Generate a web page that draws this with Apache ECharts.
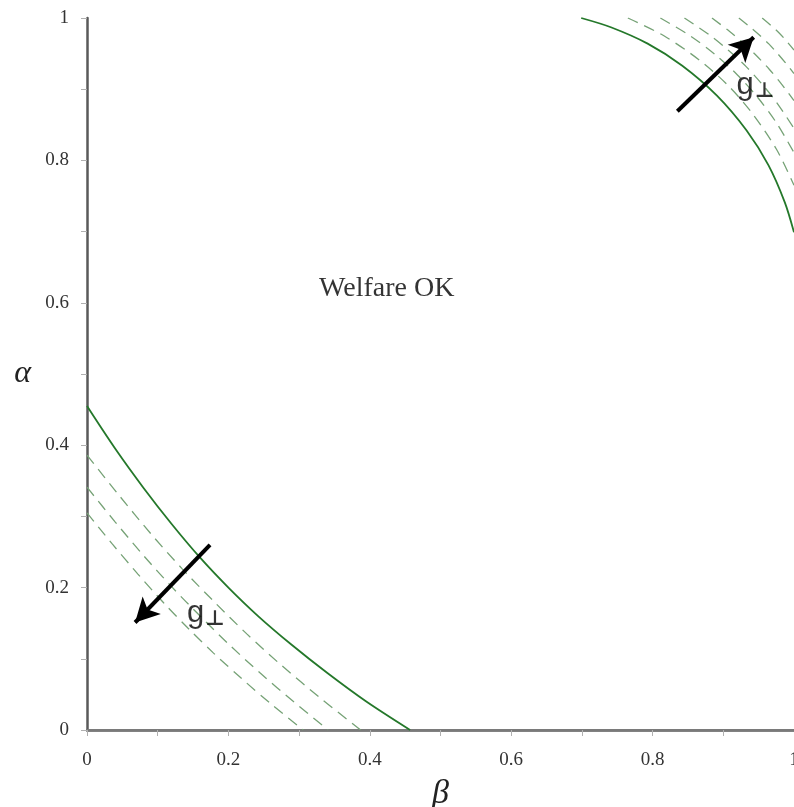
<!DOCTYPE html>
<html>
<head>
<meta charset="utf-8">
<script src="https://cdn.jsdelivr.net/npm/echarts@6/dist/echarts.min.js"></script>
<style>html,body{margin:0;padding:0;background:#fff;}#c{width:794px;height:807px;}</style>
</head>
<body>
<div id="c"></div>
<script>
// Lower-left boundary (solid) and level curves (dashed): [beta, alpha]
const llSolid = [[0,0.455],[0.04,0.395],[0.08,0.340],[0.12,0.289],[0.16,0.242],[0.20,0.200],[0.242,0.16],[0.289,0.12],[0.340,0.08],[0.395,0.04],[0.457,0]];
const llDashed1 = [[0,0.386],[0.045,0.330],[0.09,0.276],[0.135,0.226],[0.18,0.180],[0.226,0.135],[0.276,0.09],[0.330,0.045],[0.387,0]];
const llDashed2 = [[0,0.341],[0.04,0.292],[0.08,0.245],[0.12,0.201],[0.16,0.160],[0.201,0.12],[0.245,0.08],[0.292,0.04],[0.341,0]];
const llDashed3 = [[0,0.305],[0.036,0.261],[0.072,0.219],[0.108,0.179],[0.143,0.143],[0.179,0.108],[0.219,0.072],[0.261,0.036],[0.306,0]];
// Upper-right boundary (solid) and level curves (dashed)
const urSolid = [[0.699,1],[0.741,0.987],[0.793,0.964],[0.842,0.933],[0.891,0.891],[0.933,0.842],[0.964,0.793],[0.987,0.741],[1,0.699]];
const urDashed1 = [[0.765,1],[0.816,0.975],[0.866,0.941],[0.906,0.906],[0.941,0.866],[0.975,0.816],[1,0.765]];
const urDashed2 = [[0.811,1],[0.853,0.975],[0.888,0.949],[0.920,0.920],[0.949,0.888],[0.975,0.853],[1,0.811]];
const urDashed3 = [[0.845,1],[0.882,0.975],[0.908,0.954],[0.932,0.932],[0.954,0.908],[0.975,0.882],[1,0.845]];
const urDashed4 = [[0.884,1],[0.909,0.981],[0.928,0.965],[0.947,0.947],[0.965,0.928],[0.981,0.909],[1,0.884]];
const urDashed5 = [[0.922,1],[0.937,0.988],[0.951,0.976],[0.964,0.964],[0.976,0.951],[0.988,0.937],[1,0.922]];
const urDashed6 = [[0.955,1],[0.968,0.989],[0.979,0.979],[0.989,0.968],[1,0.955]];
// Arrows: [from, to] in [beta, alpha]
const arrowUR = [[0.835,0.869],[0.943,0.973]];
const arrowLL = [[0.174,0.260],[0.068,0.151]];
// Text annotations
const regionLabel = {text:'Welfare OK', pos:[0.424,0.620]};
const gLabels = [[0.945,0.905],[0.168,0.163]];

const solidStyle = {color:'#24782a', width:1.8, type:'solid'};
const dashStyle = {color:'#76a276', width:1.3, type:[11,7]};
function curve(data, style){
  return {type:'line', data:data, showSymbol:false, symbol:'none', smooth:0.3,
    lineStyle:style, silent:true, z:3, clip:true};
}
const series = [
  curve(llSolid, solidStyle), curve(llDashed1, dashStyle), curve(llDashed2, dashStyle), curve(llDashed3, dashStyle),
  curve(urSolid, solidStyle), curve(urDashed1, dashStyle), curve(urDashed2, dashStyle), curve(urDashed3, dashStyle),
  curve(urDashed4, dashStyle), curve(urDashed5, dashStyle), curve(urDashed6, dashStyle),
  {type:'scatter', data:[], silent:true, z:10,
    markLine:{silent:true, symbol:['none','arrow'], symbolSize:[19,24], animation:false,
      lineStyle:{color:'#000', width:4, type:'solid'}, label:{show:false},
      data:[[{coord:arrowUR[0]},{coord:arrowUR[1]}],[{coord:arrowLL[0]},{coord:arrowLL[1]}]]}},
  {type:'scatter', symbolSize:0, silent:true, z:11, data:[regionLabel.pos],
    label:{show:true, position:'inside', formatter:regionLabel.text, color:'#000',
      fontFamily:'Liberation Serif', fontSize:28}},
  {type:'scatter', symbolSize:0, silent:true, z:11, data:gLabels,
    label:{show:true, position:'inside', formatter:'{g|g}{s|⊥}',
      rich:{g:{fontFamily:'Liberation Sans', fontSize:31, color:'#000', lineHeight:32},
            s:{fontFamily:'DejaVu Sans', fontSize:21, fontWeight:'bold', color:'#000', lineHeight:18, verticalAlign:'bottom', padding:[0,0,0,1]}}}}
];

const axisLabelStyle = {fontFamily:'Liberation Serif', fontSize:19, color:'#333'};
const chart = echarts.init(document.getElementById('c'), null, {renderer:'canvas'});
chart.setOption({
  animation:false,
  backgroundColor:'#fff',
  grid:{left:87, right:0, top:18, bottom:77, containLabel:false, outerBoundsMode:'none'},
  xAxis:[{type:'value', min:0, max:1, interval:0.2, name:'β', nameLocation:'middle', nameGap:47,
    nameTextStyle:{fontFamily:'Liberation Serif', fontStyle:'italic', fontSize:34, color:'#222'},
    axisLine:{show:true, onZero:false, lineStyle:{color:'#5a5a5a', width:2.5}},
    axisTick:{show:true, length:6, lineStyle:{color:'#b0b0b0'}},
    minorTick:{show:true, splitNumber:2, length:6, lineStyle:{color:'#b0b0b0'}},
    splitLine:{show:false}, axisLabel:Object.assign({margin:21, alignMaxLabel:'center', alignMinLabel:'center'}, axisLabelStyle)},
    {type:'value', min:0, max:1, position:'top', axisLine:{show:true, lineStyle:{color:'#7a7a7a', width:2}},
    axisTick:{show:false}, axisLabel:{show:false}, splitLine:{show:false}}],
  yAxis:{type:'value', min:0, max:1, interval:0.2, name:'α', nameLocation:'middle', nameGap:56, nameRotate:0,
    nameTextStyle:{fontFamily:'Liberation Serif', fontStyle:'italic', fontSize:32, color:'#222'},
    axisLine:{show:true, onZero:false, lineStyle:{color:'#5a5a5a', width:2.5}},
    axisTick:{show:true, length:6, lineStyle:{color:'#b0b0b0'}},
    minorTick:{show:true, splitNumber:2, length:6, lineStyle:{color:'#b0b0b0'}},
    splitLine:{show:false}, axisLabel:Object.assign({margin:18}, axisLabelStyle)},
  series:series
});
</script>
</body>
</html>
